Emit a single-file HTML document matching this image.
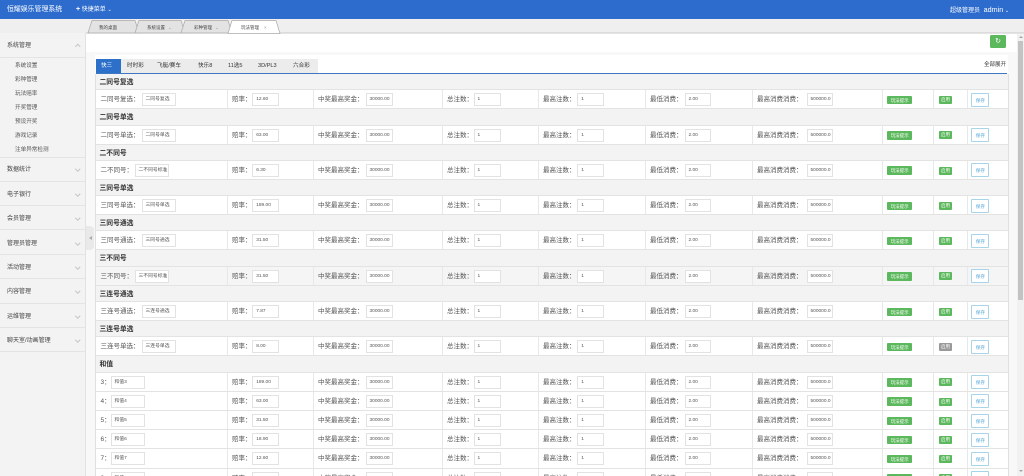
<!DOCTYPE html>
<html style="overflow:hidden"><head><meta charset="utf-8"><style>
*{margin:0;padding:0;box-sizing:border-box}
html,body{width:1024px;height:476px;overflow:hidden}
body{background:#fff;font-family:"Liberation Sans","Noto Sans CJK SC",sans-serif}
#w{position:relative;width:1024px;height:476px;overflow:hidden;background:#fff}
.a{position:absolute}
.hd{left:0;top:0;width:1024px;height:19px;background:#2d6ccd;color:#fff}
.side{left:0;top:33px;width:86px;height:443px;background:#f3f3f3;border-right:1px solid #e2e2e2}
.sec{position:absolute;left:0;width:85px;height:24.4px;border-bottom:1px solid #e4e4e4;font-size:6px;line-height:27px;color:#444;padding-left:7px}
.sub{position:absolute;left:15px;font-size:5.6px;color:#555;line-height:17px}
.chev{position:absolute;left:76px;top:10px;width:3.5px;height:3.5px;border-right:1px solid #c4c4c4;border-bottom:1px solid #c4c4c4;transform:rotate(45deg)}
.chev.up{transform:rotate(-135deg);top:12px}
.tbl{left:95px;top:74px;width:913.5px;border-left:1px solid #e0e0e0;border-right:1px solid #e0e0e0}
.h{height:16.3px;background:#f3f3f3;border-bottom:1px solid #e3e3e3;font-size:6.8px;font-weight:bold;color:#333;line-height:18.5px;padding-left:3.5px;white-space:nowrap}
.r{display:grid;grid-template-columns:131.5px 86px 129px 96px 107px 107px 130px 51px 34px 40px;height:19px;border-bottom:1px solid #e3e3e3;background:#fff}
.r.t{height:19.2px}
.r.g{background:#f5f5f5}
.r>div{position:relative;border-right:1px solid #e8e8e8}
.r>div:last-child{border-right:none}
.l{position:absolute;left:4.5px;top:0;line-height:20.5px;font-size:6.5px;color:#555;white-space:nowrap}
.i{position:absolute;top:3px;height:13px;border:1px solid #e2e2e2;background:#fff;font-size:4.8px;color:#555;line-height:12px;padding-left:3px;white-space:nowrap;overflow:hidden;width:27px}
.c2 .i{left:24.7px}.c3 .i{left:52px}.c4 .i{left:31px}.c5 .i{left:38.7px}.c6 .i{left:39px;width:26px}.c7 .i{left:54px;width:26px}
.c1 .i{width:34.5px}
.bt{position:absolute;left:4.7px;top:5.5px;width:25px;height:8.5px;background:#5cb85c;color:#fff;font-size:4.5px;line-height:9px;text-align:center;border-radius:1px;white-space:nowrap}
.en{position:absolute;left:5.3px;top:5.7px;width:13.4px;height:8px;background:#5cb85c;color:#fff;font-size:4.5px;line-height:8.5px;text-align:center;border-radius:1px}
.en.dis{background:#9a9a9a}
.sv{position:absolute;left:3.7px;top:2.5px;width:18.3px;height:14px;border:1px solid #a8d4ea;color:#55a6d6;background:#fff;font-size:4.6px;line-height:13px;text-align:center;border-radius:1px}
</style></head><body><div id="w">

<div class="a hd">
  <div class="a" style="left:7px;top:0;line-height:20px;font-size:6.9px;white-space:nowrap">恒耀娱乐管理系统</div>
  <div class="a" style="left:76px;top:0;line-height:20px;font-size:6px;white-space:nowrap"><b style="font-size:7px">+</b> 快捷菜单 <span style="font-size:5px">&#8964;</span></div>
  <div class="a" style="left:950px;top:0;line-height:20px;font-size:6px;white-space:nowrap">超级管理员 <span style="font-size:7.2px;margin-left:2px">admin</span> <span style="font-size:5px">&#8964;</span></div>
</div>

<svg class="a" style="left:0;top:19px" width="1024" height="15" viewBox="0 0 1024 15">
  <rect x="0" y="0" width="1024" height="14" fill="#efefef"/>
  <line x1="86" y1="14" x2="1024" y2="14" stroke="#c9c9c9" stroke-width="1"/>
  <polygon points="88,14 92,1.5 135,1.5 139,14" fill="#e3e3e3" stroke="#a9a9a9" stroke-width="0.7"/>
  <polygon points="135,14 139,1.5 181,1.5 185,14" fill="#e3e3e3" stroke="#a9a9a9" stroke-width="0.7"/>
  <polygon points="181,14 185,1.5 228,1.5 232,14" fill="#e3e3e3" stroke="#a9a9a9" stroke-width="0.7"/>
  <polygon points="228,14.5 232,1.5 276,1.5 280,14.5" fill="#ffffff" stroke="#a9a9a9" stroke-width="0.7"/>
  <g font-family="Liberation Sans, Noto Sans CJK SC, sans-serif" font-size="4.5" fill="#444">
    <text x="99" y="10">我的桌面</text>
    <text x="147" y="10">系统设置</text>
    <text x="168" y="10" fill="#999">⌄</text>
    <text x="194" y="10">彩种管理</text>
    <text x="215" y="10" fill="#999">⌄</text>
    <text x="241" y="10">玩法管理</text>
    <text x="264" y="10" fill="#999">×</text>
  </g>
</svg>

<div class="a side">
  <div class="sec" style="top:0;height:24.5px;color:#444">系统管理<span class="chev up"></span></div>
  <div class="sub" style="top:25px">系统设置</div>
  <div class="sub" style="top:39px">彩种管理</div>
  <div class="sub" style="top:53px">玩法赔率</div>
  <div class="sub" style="top:67px">开奖管理</div>
  <div class="sub" style="top:81px">预设开奖</div>
  <div class="sub" style="top:95px">游戏记录</div>
  <div class="sub" style="top:109px">注单异常检测</div>
  <div class="a" style="left:0;top:124px;width:85px;height:1px;background:#e4e4e4"></div>
  <div class="sec" style="top:124.3px">数据统计<span class="chev"></span></div>
  <div class="sec" style="top:148.7px">电子银行<span class="chev"></span></div>
  <div class="sec" style="top:173.1px">会员管理<span class="chev"></span></div>
  <div class="sec" style="top:197.5px">管理员管理<span class="chev"></span></div>
  <div class="sec" style="top:221.9px">活动管理<span class="chev"></span></div>
  <div class="sec" style="top:246.3px">内容管理<span class="chev"></span></div>
  <div class="sec" style="top:270.7px">运维管理<span class="chev"></span></div>
  <div class="sec" style="top:295.1px">聊天室/动画管理<span class="chev"></span></div>
</div>

<div class="a" style="left:86px;top:52px;width:931px;height:424px;background:#f8f8f8"></div>
<div class="a" style="left:95px;top:55px;width:913px;height:421px;background:#fff"></div>
<div class="a" style="left:86px;top:226px;width:8px;height:24px;background:#e9e9e9;border-radius:0 4px 4px 0"></div>
<div class="a" style="left:88.5px;top:235.5px;width:0;height:0;border-top:2.5px solid transparent;border-bottom:2.5px solid transparent;border-right:3px solid #aaa"></div>

<div class="a" style="left:990px;top:35px;width:16px;height:13px;background:#5cb85c;border-radius:1.5px;color:#fff;font-size:7px;line-height:13px;text-align:center">&#8635;</div>

<div class="a" style="left:96px;top:59px;width:222px;height:14px;background:#ececec"></div>
<div class="a" style="left:96px;top:59px;width:25px;height:14px;background:#2d70c9"></div>
<div class="a" style="left:96px;top:59px;height:14px;line-height:15px;font-size:5.6px;color:#333;white-space:nowrap">
  <span class="a" style="left:5px;color:#fff">快三</span>
  <span class="a" style="left:31px">时时彩</span>
  <span class="a" style="left:61px">飞艇/赛车</span>
  <span class="a" style="left:102px">快乐8</span>
  <span class="a" style="left:132px">11选5</span>
  <span class="a" style="left:162px">3D/PL3</span>
  <span class="a" style="left:197px">六合彩</span>
</div>
<div class="a" style="left:984px;top:60px;font-size:5.5px;line-height:11px;color:#333;white-space:nowrap">全部展开</div>
<div class="a" style="left:96px;top:73px;width:911px;height:1.3px;background:#3f78c2"></div>

<div class="a tbl">
<div class="h">二同号复选</div>
<div class="r"><div class="c1"><span class="l">二同号复选：</span><span class="i" style="left:45.5px">二同号复选</span></div><div class="c2"><span class="l">赔率：</span><span class="i">12.60</span></div><div class="c3"><span class="l">中奖最高奖金：</span><span class="i">30000.00</span></div><div class="c4"><span class="l">总注数：</span><span class="i">1</span></div><div class="c5"><span class="l">最高注数：</span><span class="i">1</span></div><div class="c6"><span class="l">最低消费：</span><span class="i">2.00</span></div><div class="c7"><span class="l">最高消费消费：</span><span class="i">500000.0</span></div><div><span class="bt">玩法提示</span></div><div><span class="en">启用</span></div><div><span class="sv">保存</span></div></div>
<div class="h">二同号单选</div>
<div class="r"><div class="c1"><span class="l">二同号单选：</span><span class="i" style="left:45.5px">二同号单选</span></div><div class="c2"><span class="l">赔率：</span><span class="i">63.00</span></div><div class="c3"><span class="l">中奖最高奖金：</span><span class="i">30000.00</span></div><div class="c4"><span class="l">总注数：</span><span class="i">1</span></div><div class="c5"><span class="l">最高注数：</span><span class="i">1</span></div><div class="c6"><span class="l">最低消费：</span><span class="i">2.00</span></div><div class="c7"><span class="l">最高消费消费：</span><span class="i">500000.0</span></div><div><span class="bt">玩法提示</span></div><div><span class="en">启用</span></div><div><span class="sv">保存</span></div></div>
<div class="h">二不同号</div>
<div class="r"><div class="c1"><span class="l">二不同号：</span><span class="i" style="left:38.5px">二不同号标准</span></div><div class="c2"><span class="l">赔率：</span><span class="i">6.30</span></div><div class="c3"><span class="l">中奖最高奖金：</span><span class="i">30000.00</span></div><div class="c4"><span class="l">总注数：</span><span class="i">1</span></div><div class="c5"><span class="l">最高注数：</span><span class="i">1</span></div><div class="c6"><span class="l">最低消费：</span><span class="i">2.00</span></div><div class="c7"><span class="l">最高消费消费：</span><span class="i">500000.0</span></div><div><span class="bt">玩法提示</span></div><div><span class="en">启用</span></div><div><span class="sv">保存</span></div></div>
<div class="h">三同号单选</div>
<div class="r"><div class="c1"><span class="l">三同号单选：</span><span class="i" style="left:45.5px">三同号单选</span></div><div class="c2"><span class="l">赔率：</span><span class="i">189.00</span></div><div class="c3"><span class="l">中奖最高奖金：</span><span class="i">30000.00</span></div><div class="c4"><span class="l">总注数：</span><span class="i">1</span></div><div class="c5"><span class="l">最高注数：</span><span class="i">1</span></div><div class="c6"><span class="l">最低消费：</span><span class="i">2.00</span></div><div class="c7"><span class="l">最高消费消费：</span><span class="i">500000.0</span></div><div><span class="bt">玩法提示</span></div><div><span class="en">启用</span></div><div><span class="sv">保存</span></div></div>
<div class="h">三同号通选</div>
<div class="r"><div class="c1"><span class="l">三同号通选：</span><span class="i" style="left:45.5px">三同号通选</span></div><div class="c2"><span class="l">赔率：</span><span class="i">31.50</span></div><div class="c3"><span class="l">中奖最高奖金：</span><span class="i">30000.00</span></div><div class="c4"><span class="l">总注数：</span><span class="i">1</span></div><div class="c5"><span class="l">最高注数：</span><span class="i">1</span></div><div class="c6"><span class="l">最低消费：</span><span class="i">2.00</span></div><div class="c7"><span class="l">最高消费消费：</span><span class="i">500000.0</span></div><div><span class="bt">玩法提示</span></div><div><span class="en">启用</span></div><div><span class="sv">保存</span></div></div>
<div class="h">三不同号</div>
<div class="r g"><div class="c1"><span class="l">三不同号：</span><span class="i" style="left:38.5px">三不同号标准</span></div><div class="c2"><span class="l">赔率：</span><span class="i">31.50</span></div><div class="c3"><span class="l">中奖最高奖金：</span><span class="i">30000.00</span></div><div class="c4"><span class="l">总注数：</span><span class="i">1</span></div><div class="c5"><span class="l">最高注数：</span><span class="i">1</span></div><div class="c6"><span class="l">最低消费：</span><span class="i">2.00</span></div><div class="c7"><span class="l">最高消费消费：</span><span class="i">500000.0</span></div><div><span class="bt">玩法提示</span></div><div><span class="en">启用</span></div><div><span class="sv">保存</span></div></div>
<div class="h">三连号通选</div>
<div class="r"><div class="c1"><span class="l">三连号通选：</span><span class="i" style="left:45.5px">三连号通选</span></div><div class="c2"><span class="l">赔率：</span><span class="i">7.87</span></div><div class="c3"><span class="l">中奖最高奖金：</span><span class="i">30000.00</span></div><div class="c4"><span class="l">总注数：</span><span class="i">1</span></div><div class="c5"><span class="l">最高注数：</span><span class="i">1</span></div><div class="c6"><span class="l">最低消费：</span><span class="i">2.00</span></div><div class="c7"><span class="l">最高消费消费：</span><span class="i">500000.0</span></div><div><span class="bt">玩法提示</span></div><div><span class="en">启用</span></div><div><span class="sv">保存</span></div></div>
<div class="h">三连号单选</div>
<div class="r"><div class="c1"><span class="l">三连号单选：</span><span class="i" style="left:45.5px">三连号单选</span></div><div class="c2"><span class="l">赔率：</span><span class="i">8.00</span></div><div class="c3"><span class="l">中奖最高奖金：</span><span class="i">30000.00</span></div><div class="c4"><span class="l">总注数：</span><span class="i">1</span></div><div class="c5"><span class="l">最高注数：</span><span class="i">1</span></div><div class="c6"><span class="l">最低消费：</span><span class="i">2.00</span></div><div class="c7"><span class="l">最高消费消费：</span><span class="i">500000.0</span></div><div><span class="bt">玩法提示</span></div><div><span class="en dis">启用</span></div><div><span class="sv">保存</span></div></div>
<div class="h">和值</div>
<div class="r t"><div class="c1"><span class="l">3：</span><span class="i" style="left:14.5px">和值3</span></div><div class="c2"><span class="l">赔率：</span><span class="i">189.00</span></div><div class="c3"><span class="l">中奖最高奖金：</span><span class="i">30000.00</span></div><div class="c4"><span class="l">总注数：</span><span class="i">1</span></div><div class="c5"><span class="l">最高注数：</span><span class="i">1</span></div><div class="c6"><span class="l">最低消费：</span><span class="i">2.00</span></div><div class="c7"><span class="l">最高消费消费：</span><span class="i">500000.0</span></div><div><span class="bt">玩法提示</span></div><div><span class="en">启用</span></div><div><span class="sv">保存</span></div></div>
<div class="r t"><div class="c1"><span class="l">4：</span><span class="i" style="left:14.5px">和值4</span></div><div class="c2"><span class="l">赔率：</span><span class="i">63.00</span></div><div class="c3"><span class="l">中奖最高奖金：</span><span class="i">30000.00</span></div><div class="c4"><span class="l">总注数：</span><span class="i">1</span></div><div class="c5"><span class="l">最高注数：</span><span class="i">1</span></div><div class="c6"><span class="l">最低消费：</span><span class="i">2.00</span></div><div class="c7"><span class="l">最高消费消费：</span><span class="i">500000.0</span></div><div><span class="bt">玩法提示</span></div><div><span class="en">启用</span></div><div><span class="sv">保存</span></div></div>
<div class="r t"><div class="c1"><span class="l">5：</span><span class="i" style="left:14.5px">和值5</span></div><div class="c2"><span class="l">赔率：</span><span class="i">31.50</span></div><div class="c3"><span class="l">中奖最高奖金：</span><span class="i">30000.00</span></div><div class="c4"><span class="l">总注数：</span><span class="i">1</span></div><div class="c5"><span class="l">最高注数：</span><span class="i">1</span></div><div class="c6"><span class="l">最低消费：</span><span class="i">2.00</span></div><div class="c7"><span class="l">最高消费消费：</span><span class="i">500000.0</span></div><div><span class="bt">玩法提示</span></div><div><span class="en">启用</span></div><div><span class="sv">保存</span></div></div>
<div class="r t"><div class="c1"><span class="l">6：</span><span class="i" style="left:14.5px">和值6</span></div><div class="c2"><span class="l">赔率：</span><span class="i">18.90</span></div><div class="c3"><span class="l">中奖最高奖金：</span><span class="i">30000.00</span></div><div class="c4"><span class="l">总注数：</span><span class="i">1</span></div><div class="c5"><span class="l">最高注数：</span><span class="i">1</span></div><div class="c6"><span class="l">最低消费：</span><span class="i">2.00</span></div><div class="c7"><span class="l">最高消费消费：</span><span class="i">500000.0</span></div><div><span class="bt">玩法提示</span></div><div><span class="en">启用</span></div><div><span class="sv">保存</span></div></div>
<div class="r t"><div class="c1"><span class="l">7：</span><span class="i" style="left:14.5px">和值7</span></div><div class="c2"><span class="l">赔率：</span><span class="i">12.60</span></div><div class="c3"><span class="l">中奖最高奖金：</span><span class="i">30000.00</span></div><div class="c4"><span class="l">总注数：</span><span class="i">1</span></div><div class="c5"><span class="l">最高注数：</span><span class="i">1</span></div><div class="c6"><span class="l">最低消费：</span><span class="i">2.00</span></div><div class="c7"><span class="l">最高消费消费：</span><span class="i">500000.0</span></div><div><span class="bt">玩法提示</span></div><div><span class="en">启用</span></div><div><span class="sv">保存</span></div></div>
<div class="r t"><div class="c1"><span class="l">8：</span><span class="i" style="left:14.5px">和值8</span></div><div class="c2"><span class="l">赔率：</span><span class="i">9.00</span></div><div class="c3"><span class="l">中奖最高奖金：</span><span class="i">30000.00</span></div><div class="c4"><span class="l">总注数：</span><span class="i">1</span></div><div class="c5"><span class="l">最高注数：</span><span class="i">1</span></div><div class="c6"><span class="l">最低消费：</span><span class="i">2.00</span></div><div class="c7"><span class="l">最高消费消费：</span><span class="i">500000.0</span></div><div><span class="bt">玩法提示</span></div><div><span class="en">启用</span></div><div><span class="sv">保存</span></div></div>
</div>

<div class="a" style="left:1017px;top:34px;width:7px;height:442px;background:#f1f1f1"></div>
<div class="a" style="left:1018px;top:41px;width:5px;height:259px;background:#c3c3c3"></div>
<div class="a" style="left:1018.5px;top:36px;width:0;height:0;border-left:2px solid transparent;border-right:2px solid transparent;border-bottom:2.5px solid #a3a3a3"></div>
<div class="a" style="left:1018.5px;top:470px;width:0;height:0;border-left:2px solid transparent;border-right:2px solid transparent;border-top:2.5px solid #a3a3a3"></div>
</div></body></html>
